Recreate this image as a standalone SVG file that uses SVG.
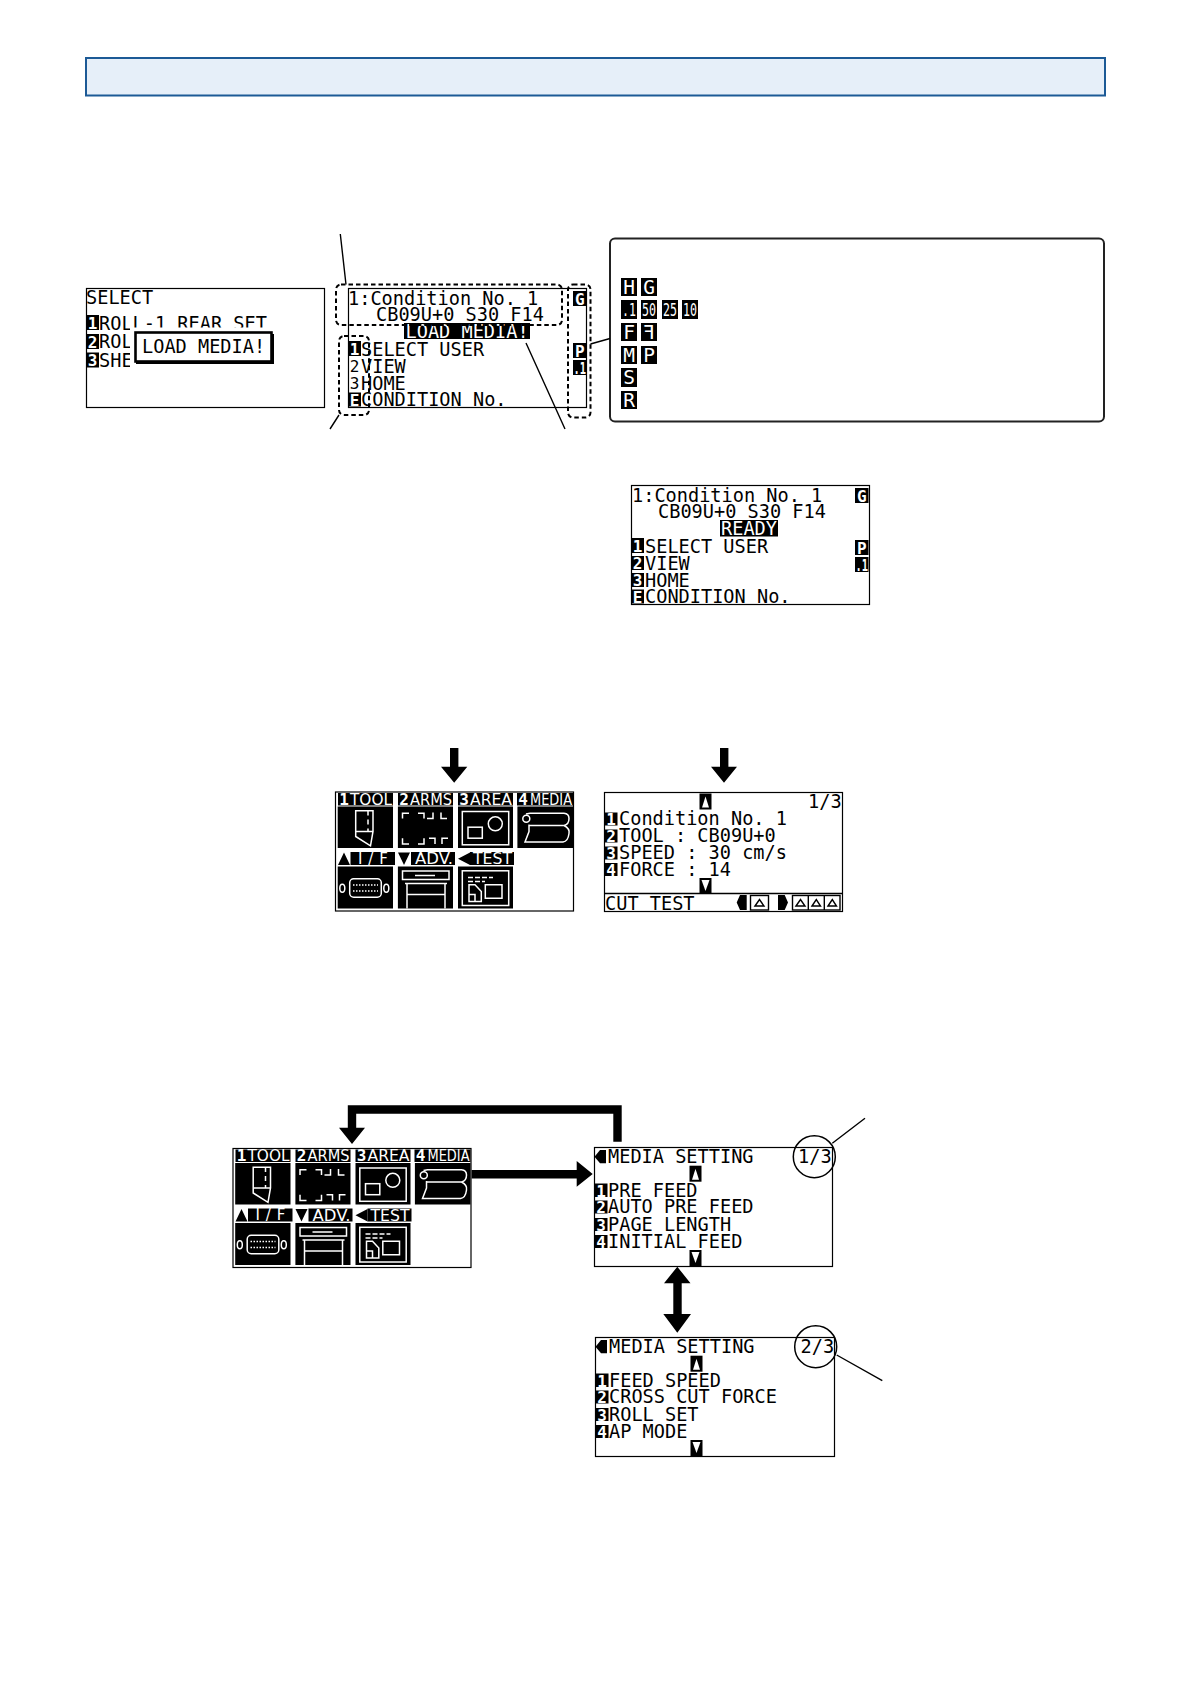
<svg xmlns="http://www.w3.org/2000/svg" width="1191" height="1684" viewBox="0 0 1191 1684">
<style>
.t{font-family:"DejaVu Sans Mono","Liberation Mono",monospace;font-size:18.6px;fill:#000}
.w{fill:#fff}
.bt{font-family:"DejaVu Sans Mono","Liberation Mono",monospace;font-weight:700;font-size:16px;fill:#fff;text-anchor:middle}
.dot{font-family:"DejaVu Sans Mono","Liberation Mono",monospace;font-weight:700;font-size:16px;fill:#fff}
.bk{fill:#000}
.bn{font-weight:400}
.bg{font-family:"DejaVu Sans Mono","Liberation Mono",monospace;font-size:19.5px;fill:#fff;text-anchor:middle}
.bs{font-family:"DejaVu Sans Mono","Liberation Mono",monospace;font-size:17px;fill:#fff}
.hd{font-family:"DejaVu Sans","Liberation Sans",sans-serif;font-size:15px;fill:#fff;text-anchor:start}
.p{fill:#fff;stroke:#000;stroke-width:1.2}
.i{fill:none;stroke:#fff;stroke-width:1.5}
.d{fill:none;stroke:#000;stroke-width:2;stroke-dasharray:4.5 3}
.l{fill:none;stroke:#000;stroke-width:1.4}
.a{fill:none;stroke:#000;stroke-width:8.4}
</style>
<defs>
<g id="menu">
<rect class="p" x="0.5" y="0.5" width="238" height="119"/>
<rect class="bk" x="3" y="1.5" width="55" height="12.5"/><rect class="bk" x="63" y="1.5" width="55" height="12.5"/><rect class="bk" x="123" y="1.5" width="55" height="12.5"/><rect class="bk" x="182" y="1.5" width="56" height="12.5"/>
<text class="bt" x="9" y="13">1</text><text class="hd" x="15" y="13" textLength="42" lengthAdjust="spacingAndGlyphs">TOOL</text>
<text class="bt" x="69" y="13">2</text><text class="hd" x="75" y="13" textLength="42" lengthAdjust="spacingAndGlyphs">ARMS</text>
<text class="bt" x="129" y="13">3</text><text class="hd" x="135" y="13" textLength="42" lengthAdjust="spacingAndGlyphs">AREA</text>
<text class="bt" x="188" y="13">4</text><text class="hd" x="195" y="13" textLength="42" lengthAdjust="spacingAndGlyphs">MEDIA</text>
<rect class="bk" x="2.7" y="15" width="55.3" height="41.5"/><rect class="bk" x="62.9" y="15" width="55.1" height="41.5"/><rect class="bk" x="123" y="15" width="55" height="41.5"/><rect class="bk" x="182.4" y="15" width="55.6" height="41.5"/>
<path class="bk" d="M3 73.5 9 61 15 73.5Z M63 61H75L69 73.5Z M135 61V73.5L123 67.2Z"/>
<rect class="bk" x="15.5" y="60.5" width="44.5" height="13"/><rect class="bk" x="76" y="60.5" width="44" height="13"/><rect class="bk" x="135" y="60.5" width="44" height="13"/>
<text class="hd" x="23" y="72" textLength="30" lengthAdjust="spacing">I/F</text><text class="hd" x="80" y="72.5" textLength="38" lengthAdjust="spacingAndGlyphs">ADV.</text><text class="hd" x="138" y="72.5" textLength="39" lengthAdjust="spacingAndGlyphs">TEST</text>
<rect class="bk" x="2.7" y="75" width="55.3" height="42"/><rect class="bk" x="62.9" y="75" width="55.1" height="42"/><rect class="bk" x="123" y="75" width="55" height="42"/>
<path class="i" d="M20.7 19.3V45L35.5 54.3 38 40V19.3ZM20.7 40H38M33 19.3V24M33 28V33M33 37V40"/>
<path class="i" d="M67.5 27V21.7H74M83 21.7H89V27M92 27H98V21M106 21V27H112M67.5 46.7V52.5H74M83 52.5H89V46.7M94 46.7H100V52.5M107 52.5V46.7H113"/>
<rect class="i" x="127.3" y="20" width="46.4" height="33.3"/><rect class="i" x="133" y="35.7" width="14.3" height="11"/><circle class="i" cx="160.3" cy="32.3" r="7"/>
<circle class="i" cx="191.3" cy="27.3" r="3.5"/><path class="i" d="M191 22.5 195 21.7H229Q234 22 234 27 234 33 229 34 235 37 234 42 233 50 228 50.5H190L194 40V33M194 34H229"/>
<rect class="i" x="14.7" y="87.3" width="31.6" height="18.4" rx="4"/><ellipse class="i" cx="7.3" cy="96.7" rx="2.5" ry="4"/><ellipse class="i" cx="51.3" cy="96.7" rx="2.5" ry="4"/><path class="i" stroke-dasharray="1.5 1.5" d="M18 93.5H43M18 99.5H43"/>
<path class="i" d="M67.5 79.5H114V88H67.5ZM80 84H100M70 92H112M72 92V117M110 92V117M72 103H110"/>
<rect class="i" x="127.3" y="79.3" width="46.4" height="34.7"/><path class="i" stroke-dasharray="5 2" d="M133 86H158M133 90H150"/><path class="i" d="M134 93.3H140L146.3 100V110H134ZM134 103H140V110M150.3 93.3H167V106.7H150.3Z"/>
</g>
<path id="up" d="M2.5 14 6 3 9.5 14Z" fill="#fff"/>
<path id="dn" d="M2 2H10L6 13Z" fill="#fff"/>
</defs>
<g id="banner"><rect x="86" y="58" width="1019" height="37.5" fill="#e6eff9" stroke="#1c5a96" stroke-width="2"/></g>

<g id="panel-select">
<rect class="p" x="86.5" y="288.5" width="238" height="119"/>
<text class="t" x="86" y="304">SELECT</text>
<rect class="bk" x="86" y="315" width="13" height="15"/><text class="bt" x="92.5" y="328.5">1</text>
<rect class="bk" x="86" y="334" width="13" height="15"/><text class="bt" x="92.5" y="347.5">2</text>
<rect class="bk" x="86" y="352.5" width="13" height="15"/><text class="bt" x="92.5" y="366">3</text>
<text class="t" x="99" y="329.5">ROLL-1 REAR SET</text><text class="t" x="99" y="348">ROL</text><text class="t" x="99" y="367">SHE</text>
<rect x="130" y="327.5" width="145" height="40" fill="#fff"/>
<rect x="135.5" y="332.5" width="136" height="29" fill="#fff" stroke="#000" stroke-width="2.6"/>
<path class="l" style="stroke-width:3" d="M272.5 334V362.5H136"/>
<text class="t" x="142" y="353">LOAD MEDIA!</text>
</g>

<g id="panel-load">
<rect class="p" x="348.5" y="288.5" width="238" height="119"/>
<text class="t" x="348" y="304.5">1:Condition No. 1</text>
<text class="t" x="376" y="320.5">CB09U+0 S30 F14</text>
<rect class="bk" x="404" y="323" width="126" height="16"/><text class="t w" x="405.5" y="338">LOAD MEDIA!</text>
<rect class="bk" x="348" y="341" width="13" height="15"/><text class="bt" x="354.5" y="355">1</text>
<text class="t" x="361" y="355.5">SELECT USER</text>
<text class="bt bk bn" x="354.5" y="372">2</text><text class="t" x="361" y="372.5">VIEW</text>
<text class="bt bk bn" x="354.5" y="389">3</text><text class="t" x="361" y="389.5">HOME</text>
<rect class="bk" x="348" y="392.5" width="13" height="14"/><text class="bt" x="354.5" y="405.5">E</text><text class="t" x="361" y="405.5">CONDITION No.</text>
<rect class="bk" x="573" y="291" width="13.5" height="15"/><text class="bt" x="579.7" y="304.5">G</text>
<rect class="bk" x="573" y="343" width="13.5" height="15"/><text class="bt" x="579.7" y="356.5">P</text>
<rect class="bk" x="573" y="360" width="13.5" height="15"/><text class="dot" x="573.5" y="373.5" textLength="12.5" lengthAdjust="spacingAndGlyphs">.1</text>
</g>

<g id="dash-status"><rect class="d" x="336" y="284.5" width="226" height="40.5" rx="5"/></g>
<g id="dash-keys"><rect class="d" x="339" y="336" width="30" height="79" rx="5"/></g>
<g id="dash-icons"><rect class="d" x="568" y="284.5" width="22.5" height="133" rx="5"/></g>

<g id="legend">
<rect x="610" y="238.5" width="494" height="183" rx="5" fill="#fff" stroke="#222" stroke-width="2"/>
<g class="bk">
<rect x="621" y="278" width="16" height="18"/><rect x="641" y="278" width="16" height="18"/>
<rect x="621" y="300" width="16" height="19"/><rect x="641" y="300" width="16" height="19"/><rect x="662" y="300" width="16" height="19"/><rect x="682" y="300" width="16" height="19"/>
<rect x="621" y="323" width="16" height="18"/><rect x="641" y="323" width="16" height="18"/>
<rect x="621" y="346" width="16" height="18"/><rect x="641" y="346" width="16" height="18"/>
<rect x="621" y="368" width="16" height="19"/><rect x="621" y="391" width="16" height="18"/>
</g>
<text class="bg" x="629" y="293.5">H</text><text class="bg" x="649" y="293.5">G</text>
<text class="bs" x="622" y="316" textLength="14" lengthAdjust="spacingAndGlyphs">.1</text>
<text class="bs" x="642" y="316" textLength="14" lengthAdjust="spacingAndGlyphs">50</text><text class="bs" x="663" y="316" textLength="14" lengthAdjust="spacingAndGlyphs">25</text><text class="bs" x="683" y="316" textLength="14" lengthAdjust="spacingAndGlyphs">10</text>
<text class="bg" x="629" y="338.5">F</text><text class="bg" transform="translate(1298 0) scale(-1 1)" x="649" y="338.5">F</text>
<text class="bg" x="629" y="361.5">M</text><text class="bg" x="649" y="361.5">P</text>
<text class="bg" x="629" y="384">S</text><text class="bg" x="629" y="406.5">R</text>
</g>

<g id="panel-ready">
<rect class="p" x="631.5" y="485.5" width="238" height="119"/>
<text class="t" x="632" y="501.7">1:Condition No. 1</text>
<text class="t" x="658" y="517.7">CB09U+0 S30 F14</text>
<rect class="bk" x="720" y="520" width="58" height="16.5"/><text class="t w" x="721" y="535">READY</text>
<rect class="bk" x="631" y="538" width="13" height="15"/><text class="bt" x="637.5" y="552">1</text><text class="t" x="645" y="552.7">SELECT USER</text>
<rect class="bk" x="631" y="556" width="13" height="14"/><text class="bt" x="637.5" y="569">2</text><text class="t" x="645" y="570">VIEW</text>
<rect class="bk" x="631" y="573" width="13" height="14"/><text class="bt" x="637.5" y="586">3</text><text class="t" x="645" y="586.7">HOME</text>
<rect class="bk" x="631" y="589.5" width="13" height="14"/><text class="bt" x="637.5" y="602.5">E</text><text class="t" x="645" y="603">CONDITION No.</text>
<rect class="bk" x="855" y="488" width="13.5" height="15"/><text class="bt" x="861.7" y="501.5">G</text>
<rect class="bk" x="855" y="540" width="13.5" height="15"/><text class="bt" x="861.7" y="553.5">P</text>
<rect class="bk" x="855" y="557" width="13.5" height="15"/><text class="dot" x="855.5" y="570.5" textLength="12.5" lengthAdjust="spacingAndGlyphs">.1</text>
</g>

<g id="menu-a"><use href="#menu" x="335" y="791.5"/></g>

<g id="panel-cond">
<rect class="p" x="604.5" y="792.5" width="238" height="119"/>
<rect class="bk" x="699.5" y="793.5" width="12" height="16"/><use href="#up" x="699.5" y="793.5"/>
<text class="t" x="808" y="808.3">1/3</text>
<rect class="bk" x="604.5" y="812.5" width="13" height="13"/><text class="bt" x="611" y="825">1</text><text class="t" x="619" y="825">Condition No. 1</text>
<rect class="bk" x="604.5" y="829.5" width="13" height="13"/><text class="bt" x="611" y="841.7">2</text><text class="t" x="619" y="841.7">TOOL  : CB09U+0</text>
<rect class="bk" x="604.5" y="846.5" width="13" height="13"/><text class="bt" x="611" y="859">3</text><text class="t" x="619" y="859">SPEED : 30 cm/s</text>
<rect class="bk" x="604.5" y="863" width="13" height="13"/><text class="bt" x="611" y="875.7">4</text><text class="t" x="619" y="875.7">FORCE : 14</text>
<rect class="bk" x="699.5" y="878" width="12" height="15"/><use href="#dn" x="699.5" y="878"/>
<path class="l" d="M604.5 893.5H842.5"/>
<text class="t" x="605" y="910">CUT TEST</text>
<path class="bk" d="M746.7 895V910H740L736.7 902.5 740 895ZM778 895V910H784.7L788 902.5 784.7 895Z"/>
<rect class="l" x="750.5" y="895.5" width="18" height="14.5"/><rect class="l" x="792.5" y="895.5" width="47.5" height="14.5"/>
<path class="l" d="M808.3 895.5V910M824.3 895.5V910M755 906 759.5 899.5 764 906ZM796 906 800.5 899.5 805 906ZM812 906 816.3 899.5 820.5 906ZM828 906 832.3 899.5 836.5 906Z"/>
</g>

<g id="menu-b"><use href="#menu" x="232.5" y="1148"/></g>

<g id="panel-media1">
<rect class="p" x="594.5" y="1147.5" width="238" height="119"/>
<path class="bk" d="M606 1150V1163.3H600L594.5 1156.7 600 1150Z"/>
<text class="t" x="608" y="1162.7">MEDIA SETTING</text><text class="t" x="798" y="1162.7">1/3</text>
<rect class="bk" x="689.5" y="1165.7" width="12" height="16"/><use href="#up" x="689.5" y="1165.7"/>
<rect class="bk" x="594.5" y="1183.5" width="13" height="13.5"/><text class="bt" x="601" y="1196.5">1</text><text class="t" x="608" y="1196.7">PRE FEED</text>
<rect class="bk" x="594.5" y="1200.5" width="13" height="13"/><text class="bt" x="601" y="1213">2</text><text class="t" x="608" y="1213.3">AUTO PRE FEED</text>
<rect class="bk" x="594.5" y="1218" width="13" height="13"/><text class="bt" x="601" y="1230.5">3</text><text class="t" x="608" y="1230.7">PAGE LENGTH</text>
<rect class="bk" x="594.5" y="1235" width="13" height="13"/><text class="bt" x="601" y="1247.5">4</text><text class="t" x="608" y="1247.7">INITIAL FEED</text>
<rect class="bk" x="689.5" y="1250" width="12" height="16"/><use href="#dn" x="689.5" y="1250"/>
<circle cx="814.3" cy="1156.7" r="21" fill="none" stroke="#000" stroke-width="1.5"/>
</g>

<g id="panel-media2">
<rect class="p" x="595.5" y="1337.5" width="239" height="119"/>
<path class="bk" d="M607 1340V1353.3H601L595.5 1346.7 601 1340Z"/>
<text class="t" x="609" y="1352.7">MEDIA SETTING</text><text class="t" x="800.5" y="1352.7">2/3</text>
<rect class="bk" x="690.5" y="1355.7" width="12" height="16"/><use href="#up" x="690.5" y="1355.7"/>
<rect class="bk" x="595.5" y="1373.5" width="13" height="13.5"/><text class="bt" x="602" y="1386.5">1</text><text class="t" x="609" y="1386.7">FEED SPEED</text>
<rect class="bk" x="595.5" y="1390.5" width="13" height="13"/><text class="bt" x="602" y="1403">2</text><text class="t" x="609" y="1403.3">CROSS CUT FORCE</text>
<rect class="bk" x="595.5" y="1408" width="13" height="13"/><text class="bt" x="602" y="1420.5">3</text><text class="t" x="609" y="1420.7">ROLL SET</text>
<rect class="bk" x="595.5" y="1425" width="13" height="13"/><text class="bt" x="602" y="1437.5">4</text><text class="t" x="609" y="1437.7">AP MODE</text>
<rect class="bk" x="690.5" y="1440" width="12" height="16"/><use href="#dn" x="690.5" y="1440"/>
<circle cx="815.7" cy="1346.7" r="21" fill="none" stroke="#000" stroke-width="1.5"/>
</g>

<g id="connectors">
<path class="l" d="M340.3 234 346 284.5M330 429 339 415M526 343 565 429M590.5 344 610 338.5M832.3 1143.3 865 1118.3M836.7 1355 882.3 1380.7"/>
<path class="a" d="M454.2 748V767M724.2 748V767M617.5 1141.7V1109.5H352V1129M471.7 1174.2H578M677.5 1282V1315"/>
<path class="bk" d="M441 766.7H467.3L454.2 782.7ZM711 766.7H737L724 782.7ZM339 1127.7H365L352 1144ZM576.7 1161V1186.7L592.7 1174ZM664 1283.3H690.5L677.3 1266.7ZM663.3 1314H691L677.3 1332.7Z"/>
</g>
</svg>
